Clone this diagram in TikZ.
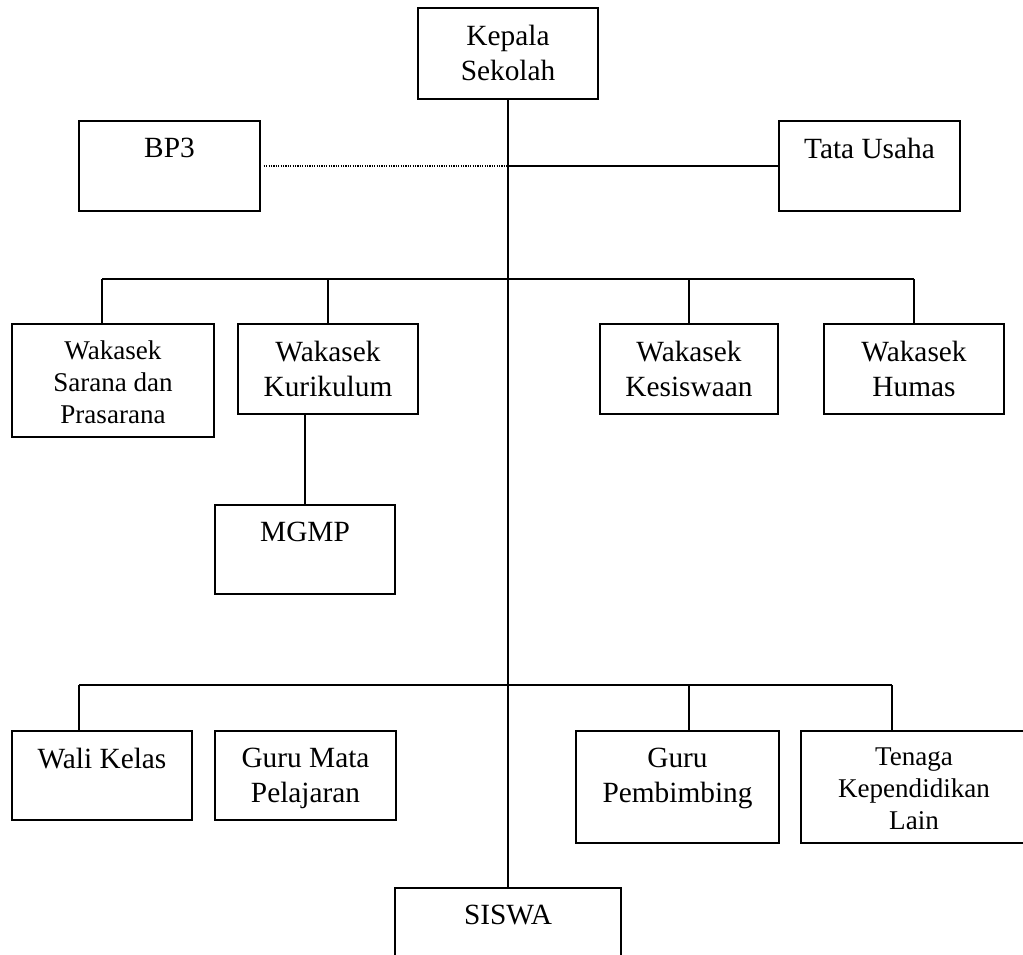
\documentclass[tikz,border=0pt]{standalone}
\usepackage{fontspec}
\setmainfont{Liberation Serif}
\usetikzlibrary{fit,calc}
\begin{document}
\begin{tikzpicture}[x=0.75pt,y=-0.75pt,
  box/.style={draw, line width=1.1pt, inner sep=0pt, rectangle},
  lbl/.style={anchor=north, inner sep=0pt, align=center, font=\fontsize{22}{26.5}\selectfont},
  lblsmall/.style={lbl, font=\fontsize{20.3}{24}\selectfont},
  conn/.style={line width=1.1pt},
  link/.style={line width=0.9pt, dash pattern=on 0.9pt off 0.9pt}]
\useasboundingbox (0,0) rectangle (1023,955);
\clip (0,0) rectangle (1023,955);

% boxes
\node[box, fit={(418,8) (598,99)}]    (kepala) {};
\node[box, fit={(79,121) (260,211)}]  (bp3) {};
\node[box, fit={(779,121) (960,211)}] (tata) {};
\node[box, fit={(12,324) (214,437)}]  (sarana) {};
\node[box, fit={(238,324) (418,414)}] (kur) {};
\node[box, fit={(600,324) (778,414)}] (kes) {};
\node[box, fit={(824,324) (1004,414)}] (humas) {};
\node[box, fit={(215,505) (395,594)}] (mgmp) {};
\node[box, fit={(12,731) (192,820)}]  (wali) {};
\node[box, fit={(215,731) (396,820)}] (gmp) {};
\node[box, fit={(576,731) (779,843)}] (gp) {};
\node[box, fit={(801,731) (1027,843)}] (tenaga) {};
\node[box, fit={(395,888) (621,985)}] (siswa) {};

% labels, set from the top of each box
\node[lbl] (kepalaT) at ($(kepala.north)+(0,17.5)$) {Kepala\\Sekolah};
\node[lbl] (bp3T)    at ($(bp3.north)+(0,17.5)$) {BP3};
\node[lbl] (tataT)   at ($(tata.north)+(0,17.5)$) {Tata Usaha};
\node[lblsmall] (saranaT) at ($(sarana.north)+(0,17)$) {Wakasek\\Sarana dan\\Prasarana};
\node[lbl] (kurT)    at ($(kur.north)+(0,17.5)$) {Wakasek\\Kurikulum};
\node[lbl] (kesT)    at ($(kes.north)+(0,17.5)$) {Wakasek\\Kesiswaan};
\node[lbl] (humasT)  at ($(humas.north)+(0,17.5)$) {Wakasek\\Humas};
\node[lbl] (mgmpT)   at ($(mgmp.north)+(0,17.5)$) {MGMP};
\node[lbl] (waliT)   at ($(wali.north)+(0,17.5)$) {Wali Kelas};
\node[lbl] (gmpT)    at ($(gmp.north)+(0,17.5)$) {Guru Mata\\Pelajaran};
\node[lbl] (gpT)     at ($(gp.north)+(0,17.5)$) {Guru\\Pembimbing};
\node[lblsmall] (tenagaT) at ($(tenaga.north)+(0,17)$) {Tenaga\\Kependidikan\\Lain};
\node[lbl] (siswaT)  at ($(siswa.north)+(0,17.5)$) {SISWA};

% main trunk
\draw[conn] (kepala.south) -- (siswa.north);

% staff links
\draw[link] ($(bp3.east)+(3,0)$) -- (bp3.east -| kepala.south);
\draw[conn] (tata.west -| kepala.south) -- (tata.west);

% vice principals
\coordinate (b1l) at (102,279);
\coordinate (b1r) at (914,279);
\draw[conn] (b1l) -- (b1r);
\draw[conn] (b1l) -- (b1l |- sarana.north);
\draw[conn] (kur.north |- b1l) -- (kur.north);
\draw[conn] (kes.north |- b1l) -- (kes.north);
\draw[conn] (b1r) -- (b1r |- humas.north);
\draw[conn] (mgmp.north |- kur.south) -- (mgmp.north);

% teachers and staff
\coordinate (b2l) at (79,685);
\coordinate (b2m) at (689,685);
\coordinate (b2r) at (892,685);
\draw[conn] (b2l) -- (b2r);
\draw[conn] (b2l) -- (b2l |- wali.north);
\draw[conn] (b2m) -- (b2m |- gp.north);
\draw[conn] (b2r) -- (b2r |- tenaga.north);
\end{tikzpicture}
\end{document}
